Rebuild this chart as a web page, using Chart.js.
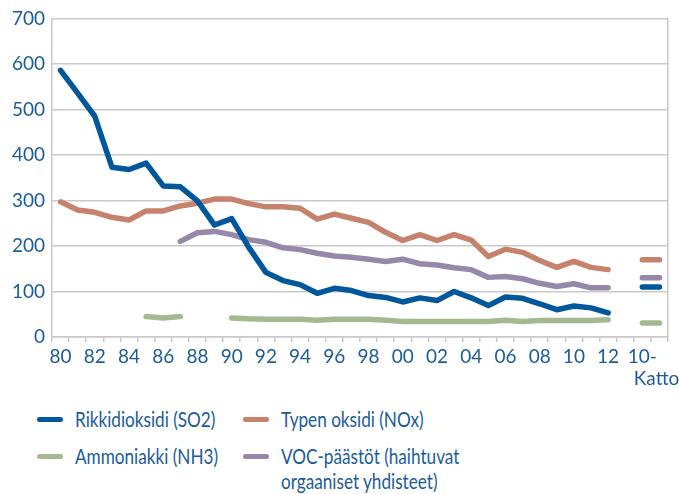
<!DOCTYPE html>
<html>
<head>
<meta charset="utf-8">
<script src="https://cdn.jsdelivr.net/npm/chart.js@4.4.1/dist/chart.umd.min.js"></script>
<style>
body{margin:0;background:#fff;font-family:Lato,sans-serif;color:#1a5c9a;}
#wrap{position:relative;width:679px;height:494px;}
#myChart{position:absolute;left:0;top:0;}
.leg{position:absolute;font-size:22px;line-height:25px;white-space:nowrap;}
.leg span.ln{position:absolute;width:26px;height:5px;border-radius:3px;}
.leg .tx{margin-left:38px;transform:scaleX(0.78);transform-origin:0 0;}
</style>
</head>
<body>
<div id="wrap">
<canvas id="myChart" width="679" height="400"></canvas>
<div id="legend"></div>
</div>
<script>
var tickLabels = ['80','','82','','84','','86','','88','','90','','92','','94','','96','','98','',
    '00','','02','','04','','06','','08','','10','','12','',['10-','\u2003\u2003Katto'],''];

var seriesNames = ['Rikkidioksidi (SO2)','Typen oksidi (NOx)','Ammoniakki (NH3)','VOC-päästöt (haihtuvat\norgaaniset yhdisteet)'];
var seriesColors = ['#00579c','#c7826d','#a5b991','#9588aa'];

var so2 = [586,536,485,373,368,382,332,330,299,246,260,197,142,124,115,96,107,102,91,87,
    77,86,80,100,86,69,88,85,73,60,68,64,53];
var nox = [297,279,274,263,257,277,277,288,294,303,303,293,286,286,283,259,270,261,252,230,
    212,225,212,225,213,177,193,186,168,153,166,153,148];
var nh3 = [null,null,null,null,null,45,42,45,null,null,42,40,39,39,39,37,39,39,39,37,
    34,34,34,34,34,34,37,34,36,36,36,36,38];
var voc = [null,null,null,null,null,null,null,210,229,232,225,214,208,196,192,184,178,175,171,166,
    171,161,158,152,148,131,133,128,118,111,117,108,108];
// 2010 ceilings (Katto)
var katto = [110,170,31,130];

var yTicks = [0,100,200,300,400,500,600,700];

var allSeries = [so2,nox,nh3,voc];
var datasets = [];
for(var i=0;i<allSeries.length;i++){
    datasets.push({
        label: seriesNames[i],
        data: allSeries[i].concat([null, katto[i], katto[i]]),
        borderColor: seriesColors[i],
        backgroundColor: seriesColors[i],
        borderWidth: 5.5,
        borderCapStyle: 'round',
        borderJoinStyle: 'round',
        pointRadius: 0,
        tension: 0,
        spanGaps: false
    });
}

var gridColor = '#c9c9c9';
var ctx = document.getElementById('myChart').getContext('2d');
var myChart = new Chart(ctx, {
    type: 'line',
    data: { labels: tickLabels, datasets: datasets },
    options: {
        responsive: false,
        animation: false,
        layout: { padding: { top: 16, right: 11, left: 0, bottom: 0 } },
        plugins: { legend: { display: false }, tooltip: { enabled: false } },
        scales: {
            x: {
                offset: true,
                grid: { offset: true, drawOnChartArea: false, drawTicks: true, tickLength: 5, color: gridColor, lineWidth: 1.5 },
                border: { color: gridColor, width: 1.5 },
                ticks: { autoSkip: false, maxRotation: 0, minRotation: 0, padding: 4, color: '#1a5c9a',
                    font: { family: 'Lato', size: 19, lineHeight: 1.15 } },
                afterFit: function(s){ s.height = 63; }
            },
            y: {
                min: 0, max: 700,
                afterBuildTicks: function(s){ s.ticks = yTicks.map(function(v){ return {value: v}; }); },
                grid: { drawTicks: false, color: gridColor, lineWidth: 1.5 },
                border: { color: gridColor, width: 1.5 },
                ticks: { padding: 7, color: '#1a5c9a', font: { family: 'Lato', size: 19 } },
                afterFit: function(s){ s.width = 52; }
            },
            y2: {
                position: 'right',
                min: 0, max: 700,
                grid: { drawOnChartArea: false, drawTicks: false },
                border: { color: gridColor, width: 1.5 },
                ticks: { display: false },
                afterFit: function(s){ s.width = 0; }
            }
        }
    }
});

// legend in two columns, built from the series names/colours
var legPos = [[37,406],[243,406],[37,443],[243,443]];
var legHtml = '';
for(var i=0;i<seriesNames.length;i++){
    legHtml += '<div class="leg" style="left:'+legPos[i][0]+'px;top:'+legPos[i][1]+'px;">'+
        '<span class="ln" style="left:0;top:11px;background:'+seriesColors[i]+'"></span>'+
        '<div class="tx">'+seriesNames[i].replace('\n','<br>')+'</div></div>';
}
document.getElementById('legend').innerHTML = legHtml;
</script>
</body>
</html>
